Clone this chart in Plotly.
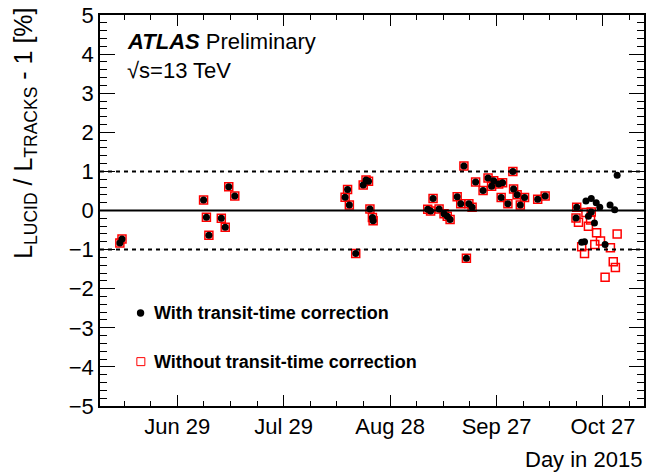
import pandas as pd
import plotly.graph_objects as go

# Day-of-year (2015) and relative difference [%] for fills where both
# versions of the calibration give the same value
early_day = [163.8, 164.4, 187.4, 188.2, 188.9, 192.4, 193.5, 194.5, 196.2,
             227.3, 228.0, 228.5, 230.3, 232.4, 233.2, 233.9, 234.3, 235.0, 235.2,
             250.6, 251.4, 252.1, 253.8, 255.2, 256.1, 256.9, 258.9, 259.9,
             260.8, 261.5, 262.2, 263.1, 264.1, 266.2, 267.6, 268.6, 269.2, 270.6,
             271.7, 271.3, 273.2, 274.6, 274.8, 275.8, 276.7, 277.9, 281.6, 283.7]
early_val = [-0.83, -0.73, 0.27, -0.17, -0.63, -0.20, -0.43, 0.61, 0.37,
             0.34, 0.54, 0.14, -1.10, 0.65, 0.78, 0.75, 0.04, -0.18, -0.26,
             0.03, -0.01, 0.31, 0.04, -0.08, -0.15, -0.23, 0.35, 0.17,
             1.14, -1.22, 0.17, 0.08, 0.73, 0.51, 0.83, 0.62, 0.76, 0.68,
             0.71, 0.33, 0.17, 1.00, 0.55, 0.40, 0.14, 0.33, 0.29, 0.37]

# Late-October fills, with transit-time correction
late_day_with = [292.6, 292.4, 295.2, 295.9, 294.0, 294.8, 296.7, 296.7,
                 298.1, 299.1, 297.6, 300.6, 302.0, 303.3, 304.0]
late_val_with = [0.08, -0.19, 0.24, -0.15, -0.81, -0.80, 0.31, -0.04,
                 0.20, 0.08, -0.32, -0.87, 0.14, 0.02, 0.90]

# Late-October fills, without transit-time correction
late_day_without = [292.6, 292.4, 293.1, 295.2, 295.9, 296.7, 296.5, 298.2,
                    299.3, 297.7, 294.0, 294.8, 302.1, 304.0, 302.9, 303.5, 300.6]
late_val_without = [0.08, -0.19, -0.30, -0.05, -0.40, -0.04, -0.24, -0.57,
                    -0.78, -0.87, -0.93, -1.10, -0.95, -0.60, -1.31, -1.46, -1.71]

tick_days = [180, 210, 240, 270, 300]
x_range_days = [158.2, 311.57]
y_range = [-5, 5]

ORIGIN = pd.Timestamp("2014-12-31")


def to_date(days):
    return [ORIGIN + pd.to_timedelta(d, unit="D") for d in days]


FONT = "Liberation Sans, Arial, Helvetica, sans-serif"

fig = go.Figure()

fig.add_trace(go.Scatter(
    x=to_date(early_day + late_day_without), y=early_val + late_val_without,
    mode="markers", name="Without transit-time correction",
    marker=dict(symbol="square-open", size=8, color="#ff0000",
                line=dict(width=1.5, color="#ff0000")),
))
fig.add_trace(go.Scatter(
    x=to_date(early_day + late_day_with), y=early_val + late_val_with,
    mode="markers", name="With transit-time correction",
    marker=dict(symbol="circle", size=7, color="black", line=dict(width=0)),
))

# Reference lines at 0 and +-1 %
fig.add_shape(type="line", xref="paper", x0=0, x1=1, yref="y", y0=0, y1=0,
              line=dict(color="black", width=2))
for lvl in (1, -1):
    fig.add_shape(type="line", xref="paper", x0=0, x1=1, yref="y", y0=lvl, y1=lvl,
                  line=dict(color="black", width=2, dash="4px,4px"))

# Plot-area geometry in pixels, for placing text boxes
L, T, W, H = 100, 12, 546, 394


def px(xp):
    return (xp - L) / W


def py(yp):
    return (T + H - yp) / H


# Legend markers
fig.add_shape(type="circle", xref="paper", yref="paper",
              xsizemode="pixel", ysizemode="pixel",
              xanchor=px(140.7), yanchor=py(312.3), x0=-3.7, x1=3.7, y0=-3.7, y1=3.7,
              fillcolor="black", line=dict(width=0))
fig.add_shape(type="rect", xref="paper", yref="paper",
              xsizemode="pixel", ysizemode="pixel",
              xanchor=px(141), yanchor=py(361.3), x0=-4, x1=4, y0=-4, y1=4,
              fillcolor="rgba(0,0,0,0)", line=dict(width=1, color="#ff0000"))

annotations = [
    dict(text="<b>With transit-time correction</b>", x=px(152), y=py(312.5),
         xanchor="left", yanchor="middle", font=dict(size=18)),
    dict(text="<b>Without transit-time correction</b>", x=px(152), y=py(362),
         xanchor="left", yanchor="middle", font=dict(size=18)),
    dict(text="<b><i>ATLAS</i></b> Preliminary", x=px(125), y=py(39),
         xanchor="left", yanchor="middle", font=dict(size=22)),
    dict(text="\u221As=13 TeV", x=px(125), y=py(67.5),
         xanchor="left", yanchor="middle", font=dict(size=22)),
    dict(text="Day in 2015", x=px(646), y=py(460),
         xanchor="right", yanchor="middle", font=dict(size=22)),
    dict(text="L<sub>LUCID</sub> / L<sub>TRACKS</sub> - 1 [%]", textangle=-90,
         x=px(24), y=py(3), xanchor="center", yanchor="top", font=dict(size=25)),
]
for a in annotations:
    a.update(xref="paper", yref="paper", showarrow=False)
fig.update_layout(annotations=annotations)

fig.update_layout(
    width=649, height=476,
    margin=dict(l=L, r=649 - L - W, t=T, b=476 - T - H),
    plot_bgcolor="white", paper_bgcolor="white",
    showlegend=False,
    font=dict(family=FONT, color="black", size=22),
    xaxis=dict(
        type="date", range=to_date(x_range_days),
        tickmode="array", tickvals=to_date(tick_days), tickformat="%b %d",
        ticks="inside", ticklen=11, tickwidth=1, tickcolor="black",
        showline=True, linecolor="black", linewidth=1.5, mirror="ticks",
        showgrid=False, zeroline=False, tickfont=dict(size=22),
        ticklabelstandoff=0, ticklabeloverflow="allow",
        minor=dict(tickmode="linear", tick0=to_date([180])[0],
                   dtick=7.5 * 86400000, ticks="inside", ticklen=5.5,
                   tickwidth=1, tickcolor="black", showgrid=False),
    ),
    yaxis=dict(
        range=y_range, tickmode="linear", tick0=0, dtick=1,
        ticks="inside", ticklen=15, tickwidth=1, tickcolor="black",
        showline=True, linecolor="black", linewidth=1.5, mirror="ticks",
        showgrid=False, zeroline=False, tickfont=dict(size=22),
        ticklabeloverflow="allow",
        minor=dict(tickmode="linear", tick0=0, dtick=0.2, ticks="inside",
                   ticklen=7.5, tickwidth=1, tickcolor="black", showgrid=False),
    ),
)

fig.write_html("out.html")
